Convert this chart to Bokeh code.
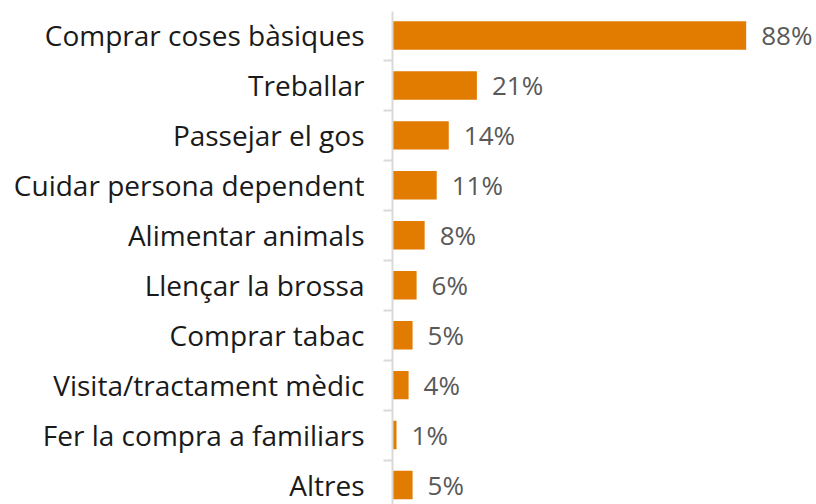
from bokeh.plotting import figure
from bokeh.models import ColumnDataSource, Range1d, FixedTicker
from bokeh.core.properties import value
from bokeh.embed import file_html
from bokeh.resources import INLINE

categories = ["Comprar coses bàsiques", "Treballar", "Passejar el gos",
              "Cuidar persona dependent", "Alimentar animals", "Llençar la brossa",
              "Comprar tabac", "Visita/tractament mèdic", "Fer la compra a familiars",
              "Altres"]
values = [88, 21, 14, 11, 8, 6, 5, 4, 1, 5]
labels = [f"{v}%" for v in values]

pos = list(range(len(categories)))
src = ColumnDataSource(dict(y=pos, v=values, lab=labels))

p = figure(width=816, height=504, output_backend="svg", toolbar_location=None,
           x_range=Range1d(0, 105.5), y_range=Range1d(9.39, -0.48),
           min_border_left=392, min_border_right=0, min_border_top=11,
           min_border_bottom=0)

p.hbar(y="y", right="v", left=0, height=0.57, source=src,
       fill_color="#E27C00", line_color=None)
p.text(x="v", y="y", text="lab", source=src, x_offset=15,
       text_align="left", text_baseline="middle",
       text_font=value("Open Sans"), text_font_size="26px", text_color="#595959")

p.xaxis.visible = False
p.xgrid.visible = False
p.ygrid.visible = False
p.outline_line_color = None

ax = p.yaxis[0]
ax.ticker = FixedTicker(ticks=pos, minor_ticks=[i - 0.5 for i in range(len(categories) + 1)])
ax.major_label_overrides = {i: c for i, c in zip(pos, categories)}
ax.major_tick_line_color = None
ax.major_tick_out = 0
ax.major_tick_in = 0
ax.minor_tick_out = 9
ax.minor_tick_in = 0
ax.minor_tick_line_color = "#D9D9D9"
ax.minor_tick_line_width = 2
ax.axis_line_color = "#D9D9D9"
ax.axis_line_width = 2
ax.major_label_standoff = 19
ax.major_label_text_font = "Open Sans"
ax.major_label_text_font_size = "28px"
ax.major_label_text_color = "#1a1a1a"

open("out.html", "w").write(file_html(p, INLINE))
